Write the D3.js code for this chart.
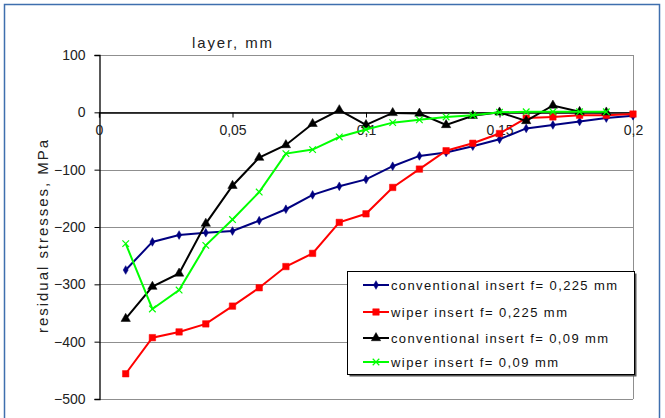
<!DOCTYPE html>
<html>
<head>
<meta charset="utf-8">
<script src="https://cdn.jsdelivr.net/npm/d3@7"></script>
<style>
  body { margin: 0; background: #fff; }
  svg { font-family: "Liberation Sans", Arial, sans-serif; }
</style>
</head>
<body>
<svg id="chart" width="665" height="418"></svg>
<script>
// layer depth, mm
const layer = [0.01, 0.02, 0.03, 0.04, 0.05, 0.06, 0.07, 0.08, 0.09, 0.10,
               0.11, 0.12, 0.13, 0.14, 0.15, 0.16, 0.17, 0.18, 0.19, 0.20];

// residual stresses, MPa
const convFeed225 = [-275, -226, -214, -210, -207, -189, -169, -144, -129, -117,
                     -94, -76, -70, -59, -47, -28, -22, -16, -10, -6];
const wiperFeed225 = [-456, -393, -383, -369, -338, -306, -269, -246, -192, -177,
                      -131, -99, -67, -54, -37, -10, -8, -5, -5, -3];
const convFeed09 = [-360, -304, -281, -194, -128, -79, -57, -20, 4, -22,
                    -1, -2, -22, -6, 0, -15, 12, 1, 0];
const wiperFeed09 = [-229, -343, -310, -232, -187, -139, -72, -65, -43, -30,
                     -18, -13, -8, -5, 0, 1, 1, 1, 1];

const seriesNames = [
  'conventional insert f= 0,225 mm',
  'wiper insert f= 0,225 mm',
  'conventional insert f= 0,09 mm',
  'wiper insert f= 0,09 mm'
];

const xTicks = [0, 0.05, 0.1, 0.15, 0.2];
const xTickLabels = ['0', '0,05', '0,1', '0,15', '0,2'];
const yTicks = [100, 0, -100, -200, -300, -400, -500];

const svg = d3.select('#chart');

// outer frame
svg.append('rect')
    .attr('x', 4.5).attr('y', 4.5)
    .attr('width', 655).attr('height', 430)
    .attr('fill', 'none')
    .attr('stroke', '#3f6fae')
    .attr('stroke-width', 1.5);

/*********** Scales *******************/
const xScale = d3.scaleLinear().domain([0, 0.2]).range([99, 633]);
const yScale = d3.scaleLinear().domain([-500, 100]).range([399, 55]);

/*********** Grid + plot border *******************/
svg.append('g')
    .selectAll('line')
    .data(yTicks)
    .join('line')
    .attr('x1', xScale(0)).attr('x2', xScale(0.2))
    .attr('y1', d => Math.round(yScale(d)) + 0.5)
    .attr('y2', d => Math.round(yScale(d)) + 0.5)
    .attr('stroke', '#8f8f8f')
    .attr('stroke-width', 1);

svg.append('line')
    .attr('x1', Math.round(xScale(0.2)) + 0.5).attr('x2', Math.round(xScale(0.2)) + 0.5)
    .attr('y1', yScale(100)).attr('y2', yScale(-500))
    .attr('stroke', '#8f8f8f');

/*********** Y axis *******************/
const yAxis = svg.append('g')
    .attr('transform', `translate(${Math.round(xScale(0)) + 0.5},0)`)
    .call(d3.axisLeft(yScale).tickValues(yTicks).tickSize(5).tickFormat(d3.format('d')));
yAxis.select('.domain').attr('stroke', '#000').attr('stroke-width', 1.3);
yAxis.selectAll('.tick line').attr('stroke', '#000');
yAxis.selectAll('.tick text')
    .attr('x', -14)
    .style('font-size', '14px')
    .attr('fill', '#222');

/*********** X axis (crosses at 0) *******************/
const xAxis = svg.append('g')
    .attr('transform', `translate(0,${Math.round(yScale(0)) + 0.5})`)
    .call(d3.axisBottom(xScale).tickValues(xTicks).tickSize(5)
      .tickFormat((d, i) => xTickLabels[i]));
xAxis.select('.domain').attr('stroke', '#000').attr('stroke-width', 1.3);
xAxis.selectAll('.tick line').attr('stroke', '#000');
xAxis.selectAll('.tick text')
    .attr('y', 13)
    .style('font-size', '14px')
    .attr('fill', '#222');

/*********** Labels *******************/
svg.append('text')
    .attr('x', 192).attr('y', 48)
    .attr('textLength', 80)
    .attr('lengthAdjust', 'spacing')
    .style('font-size', '15px')
    .attr('fill', '#222')
    .text('layer, mm');

svg.append('text')
    .attr('transform', 'translate(48,333) rotate(-90)')
    .attr('textLength', 193)
    .attr('lengthAdjust', 'spacing')
    .style('font-size', '15px')
    .attr('fill', '#222')
    .text('residual stresses, MPa');

/*********** Series *******************/
const series = [
  { name: seriesNames[0], values: convFeed225, color: '#000080', symbol: d3.symbolDiamond, size: 22, fillMark: true },
  { name: seriesNames[1], values: wiperFeed225, color: '#ff0000', symbol: d3.symbolSquare, size: 42, fillMark: true },
  { name: seriesNames[2], values: convFeed09, color: '#000000', symbol: d3.symbolTriangle, size: 38, fillMark: true },
  { name: seriesNames[3], values: wiperFeed09, color: '#00ff00', symbol: d3.symbolX, size: 30, fillMark: false }
];

const line = d3.line()
    .x(d => xScale(d.x))
    .y(d => yScale(d.y));

series.forEach(s => {
  const pts = s.values.map((v, i) => ({ x: layer[i], y: v }));
  const g = svg.append('g');
  g.append('path')
      .datum(pts)
      .attr('d', line)
      .attr('fill', 'none')
      .attr('stroke', s.color)
      .attr('stroke-width', 2);
  g.selectAll('path.mark')
      .data(pts)
      .join('path')
      .attr('class', 'mark')
      .attr('transform', d => `translate(${xScale(d.x)},${yScale(d.y)})`)
      .attr('d', d3.symbol().type(s.symbol).size(s.size))
      .attr('fill', s.fillMark ? s.color : 'none')
      .attr('stroke', s.color)
      .attr('stroke-width', s.fillMark ? 0.5 : 1.2);
});

/*********** Legend *******************/
const legend = svg.append('g');
legend.append('rect')
    .attr('x', 349.5).attr('y', 273.5)
    .attr('width', 287).attr('height', 103)
    .attr('fill', '#555');
legend.append('rect')
    .attr('x', 347.5).attr('y', 271.5)
    .attr('width', 287).attr('height', 103)
    .attr('fill', '#fff')
    .attr('stroke', '#000');

const legendY = [285, 312, 338, 362];
const legendLen = [226, 176, 217, 167];
series.forEach((s, i) => {
  const row = legend.append('g').attr('transform', `translate(0,${legendY[i]})`);
  row.append('line')
      .attr('x1', 363).attr('x2', 389)
      .attr('stroke', s.color)
      .attr('stroke-width', 2);
  row.append('path')
      .attr('transform', 'translate(376,0)')
      .attr('d', d3.symbol().type(s.symbol).size(s.size))
      .attr('fill', s.fillMark ? s.color : 'none')
      .attr('stroke', s.color)
      .attr('stroke-width', s.fillMark ? 0.5 : 1.2);
  row.append('text')
      .attr('x', 391).attr('y', 5)
      .attr('textLength', legendLen[i])
      .attr('lengthAdjust', 'spacing')
      .style('font-size', '13px')
      .attr('fill', '#111')
      .text(s.name);
});
</script>
</body>
</html>
